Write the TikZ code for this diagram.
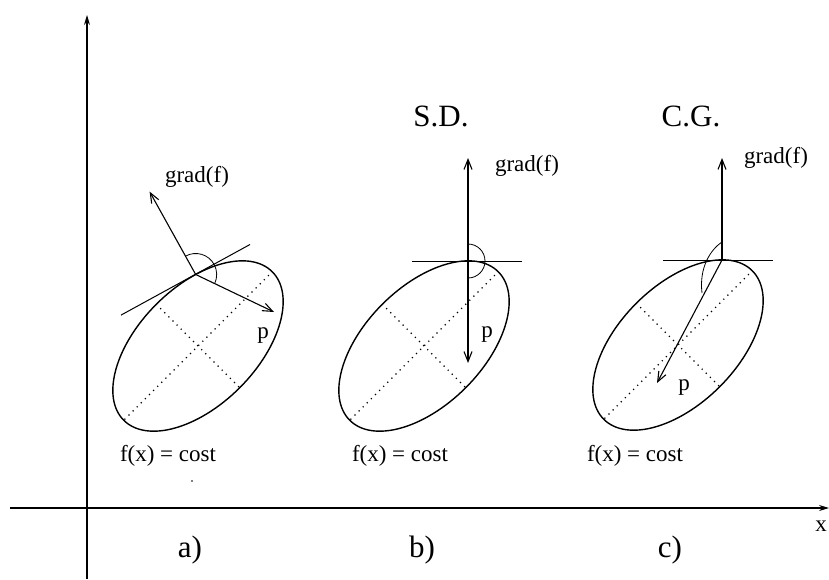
\documentclass[tikz,border=0pt]{standalone}
\usepackage{fontspec}
\setmainfont{Liberation Serif}
\usetikzlibrary{arrows.meta}
\begin{document}
\begin{tikzpicture}[x=1pt,y=-1pt,
  lbl/.style={inner sep=0pt, font=\fontsize{23}{28}\selectfont},
  big/.style={inner sep=0pt, font=\fontsize{31}{37}\selectfont},
  vec/.style={line width=1.1pt, -{Straight Barb[length=10pt,width=8pt]}},
  axisline/.style={line width=1.1pt, -{Stealth[length=10pt,width=6pt]}},
  curve/.style={line width=1.4pt},
  tline/.style={line width=1pt},
  axdot/.style={line width=1.2pt, dash pattern=on 1.2pt off 4.6pt},
]
\useasboundingbox (0,0) rectangle (829,579);

% axes
\coordinate (yb) at (87,579);
\coordinate (yt) at (87,15);
\coordinate (xl0) at (10,508);
\coordinate (xr) at (829,508);
\draw[axisline] (yb) -- (yt);
\draw[axisline] (xl0) -- (xr);
\node[lbl] (xlab) at (821,526) {x};

% ellipse centres
\coordinate (ca) at (198,346);
\coordinate (cb) at (424,346);
\coordinate (cc) at (678,345);
\foreach \c in {ca,cb,cc}{
  \begin{scope}[shift={(\c)}, rotate=45]
    \draw[curve] (0pt,0pt) ellipse [x radius=105pt, y radius=59pt];
    \draw[axdot] (-104pt,0pt) -- (104pt,0pt);
    \draw[axdot] (0pt,-58pt) -- (0pt,58pt);
  \end{scope}
}

% panel a
\coordinate (ta) at (195.7,274.5);
\coordinate (tal) at (121,315.1);
\coordinate (tar) at (250,244.5);
\coordinate (gat) at (149.6,191.6);
\coordinate (pat) at (274,312);
\draw[tline] (tal) -- (tar);
\draw[vec] (ta) -- (gat);
\draw[vec] (ta) -- (pat);
\draw[line width=0.8pt] ([shift={(118.5:21pt)}]ta) arc[start angle=118.5, end angle=-25.3, radius=21pt];
\node[lbl] (ga) at (197,177) {grad(f)};
\node[lbl] (pa) at (263,336) {p};

% panel b
\coordinate (tb) at (468,261);
\coordinate (tbl) at (412,261);
\coordinate (tbr) at (522,261);
\coordinate (gbt) at (468,158);
\coordinate (pbt) at (468,363);
\draw[tline] (tbl) -- (tbr);
\draw[vec] (tb) -- (gbt);
\draw[vec] (tb) -- (pbt);
\draw[line width=0.8pt] ([shift={(90:17pt)}]tb) arc[start angle=90, end angle=-90, radius=17pt];
\node[lbl] (gb) at (527,166) {grad(f)};
\node[lbl] (pb) at (487,335) {p};
\node[big] (sd) at (441,116) {S.D.};

% panel c
\coordinate (tc) at (722,260);
\coordinate (tcl) at (663,260);
\coordinate (tcr) at (773,260);
\coordinate (gct) at (722,158);
\coordinate (pct) at (657,383);
\draw[tline] (tcl) -- (tcr);
\draw[vec] (tc) -- (gct);
\draw[vec] (tc) -- (pct);
\draw[line width=0.8pt] (722,242) .. controls (710,250) and (699,268) .. (702,293);
\node[lbl] (gc) at (776,158) {grad(f)};
\node[lbl] (pc) at (684,388) {p};
\node[big] (cgl) at (691,116) {C.G.};

% level-set labels
\node[lbl] (fa) at (168,456) {f(x) = cost};
\node[lbl] (fb) at (400,456) {f(x) = cost};
\node[lbl] (fc) at (635,456) {f(x) = cost};
\node[circle, fill, inner sep=0pt, minimum size=1.6pt] (dot) at (192,481) {};

% panel labels
\node[big] (la) at (190,550) {a)};
\node[big] (lb) at (422,550) {b)};
\node[big] (lc) at (670,550) {c)};
\end{tikzpicture}
\end{document}
